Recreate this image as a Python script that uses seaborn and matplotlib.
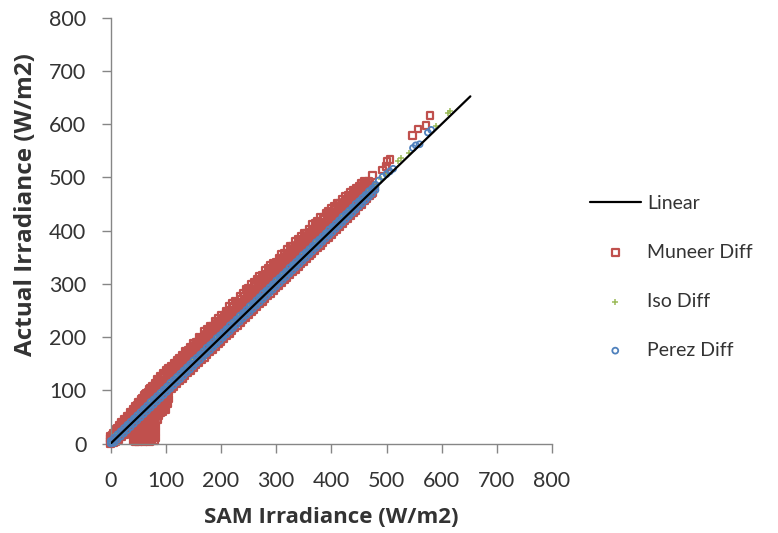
import matplotlib
matplotlib.use("Agg")
import matplotlib.pyplot as plt
import pandas as pd
import seaborn as sns

# SAM modelled irradiance levels (W/m2) and the measured irradiance recorded at each level
muneer_sam = [0, 5, 10, 15, 20, 25, 30, 35, 40, 45, 50, 55, 60, 65, 70, 75, 80, 85, 90, 95,
              100, 105, 110, 115, 120, 125, 130, 135, 140, 145, 150, 155, 160, 165, 170, 175,
              180, 185, 190, 195, 200, 205, 210, 215, 220, 225, 230, 235, 240, 245, 250, 255,
              260, 265, 270, 275, 280, 285, 290, 295, 300, 305, 310, 315, 320, 325, 330, 335,
              340, 345, 350, 355, 360, 365, 370, 375, 380, 385, 390, 395, 400, 405, 410, 415,
              420, 425, 430, 435, 440, 445, 450, 455, 460, 465, 470, 475,
              493, 499, 501, 506, 547, 557, 572, 579,
              2.5, 7.5, 12.5, 17.5, 22.5, 27.5, 32.5, 37.5, 42.5, 47.5, 52.5, 57.5, 62.5,
              67.5, 72.5, 77.5, 82.5, 87.5, 92.5, 97.5, 102.5, 107.5, 112.5, 117.5, 122.5,
              127.5, 132.5, 137.5, 142.5, 147.5, 152.5, 157.5, 162.5, 167.5, 172.5, 177.5,
              182.5, 187.5, 192.5, 197.5, 202.5, 207.5, 212.5, 217.5, 222.5, 227.5, 232.5,
              237.5, 242.5, 247.5, 252.5, 257.5, 262.5, 267.5, 272.5, 277.5, 282.5, 287.5,
              292.5, 297.5, 302.5, 307.5, 312.5, 317.5, 322.5, 327.5, 332.5, 337.5, 342.5,
              347.5, 352.5, 357.5, 362.5, 367.5, 372.5, 377.5, 382.5, 387.5, 392.5, 397.5,
              402.5, 407.5, 412.5, 417.5, 422.5, 427.5, 432.5, 437.5, 442.5, 447.5, 452.5,
              457.5, 462.5, 467.5, 472.5]
muneer_actual = [
    [0, 4, 9, 14], [1, 9, 15, 20], [3, 12, 20, 27], [8, 17, 26, 34], [13, 23, 32, 40],
    [17, 28, 37, 46], [22, 33, 42, 52], [27, 38, 48, 58], [5, 16, 31, 43, 54, 64],
    [4, 13, 24, 36, 48, 59, 70], [4, 14, 26, 41, 53, 65, 77], [6, 18, 30, 45, 58, 71, 83],
    [4, 12, 24, 36, 51, 64, 77, 90], [5, 16, 28, 40, 55, 69, 82, 95],
    [4, 14, 26, 38, 50, 61, 74, 88, 102], [6, 18, 30, 42, 55, 66, 79, 93, 108],
    [5, 15, 28, 40, 52, 63, 74, 86, 99, 113], [44, 56, 67, 79, 92, 106, 120],
    [58, 70, 83, 97, 111, 126], [60, 72, 87, 101, 116, 131],
    [64, 78, 92, 106, 121, 137], [84, 97, 111, 126, 142], [102, 116, 131, 146],
    [107, 121, 136, 151], [112, 126, 141, 157], [118, 132, 147, 160], [122, 136, 151, 166],
    [128, 142, 157, 173], [132, 147, 162, 176], [137, 152, 166, 181], [142, 157, 172, 188],
    [147, 162, 176, 190], [152, 168, 183, 199], [157, 172, 187, 198], [162, 177, 193, 210],
    [167, 183, 198, 214], [172, 188, 204, 220], [177, 193, 208, 220], [182, 197, 213, 230],
    [187, 203, 219, 235], [192, 208, 225, 241], [197, 213, 228, 241], [202, 218, 234, 249],
    [207, 223, 240, 257], [212, 229, 246, 263], [217, 234, 251, 268], [222, 238, 252, 266],
    [227, 244, 260, 276], [232, 249, 266, 283], [237, 254, 271, 289], [242, 259, 276, 292],
    [247, 264, 282, 300], [252, 269, 286, 302], [257, 274, 291, 309], [262, 279, 297, 315],
    [267, 284, 300, 316], [272, 289, 307, 325], [277, 294, 312, 329], [282, 299, 317, 335],
    [287, 304, 322, 338], [292, 309, 325, 340], [297, 314, 331, 347], [302, 319, 337, 356],
    [307, 324, 341, 358], [312, 329, 347, 365], [317, 334, 352, 370], [322, 339, 355, 370],
    [327, 344, 362, 380], [332, 349, 366, 383], [337, 354, 372, 390], [342, 359, 377, 395],
    [347, 364, 380, 395], [352, 369, 386, 402], [357, 374, 392, 411], [362, 379, 396, 413],
    [367, 384, 401, 418], [372, 389, 406, 424], [377, 394, 410, 425], [382, 399, 416, 433],
    [387, 404, 421, 437], [392, 409, 425, 442], [397, 413, 429, 445], [402, 418, 434, 451],
    [408, 423, 438, 452], [413, 428, 444, 459], [418, 433, 449, 465], [423, 438, 453, 467],
    [428, 443, 457, 471], [433, 447, 462, 476], [438, 452, 466, 480], [444, 457, 470, 484],
    [449, 462, 475, 489], [455, 467, 480, 493], [460, 472, 486], [466, 478, 490],
    [471, 483, 503], [514], [520], [530], [533], [578], [591], [597], [616],
    [3, 10, 16], [5, 14, 22], [9, 19, 28], [14, 25, 34], [19, 30, 40], [24, 35, 46],
    [29, 41, 52], [34, 46, 58], [10, 22, 40, 54, 64], [8, 19, 30, 45, 60, 72],
    [9, 20, 33, 50, 64, 78], [10, 22, 36, 55, 70, 85], [8, 18, 30, 44, 60, 76, 92],
    [10, 22, 34, 47, 64, 80, 97], [9, 20, 32, 44, 56, 70, 86, 103],
    [11, 24, 36, 48, 60, 74, 90, 108], [10, 22, 34, 50, 62, 78, 95, 113],
    [52, 64, 84, 100, 118], [64, 76, 90, 106, 124], [68, 82, 95, 112, 130],
    [74, 88, 100, 117, 136], [105, 121, 138], [110, 127, 143], [116, 131, 150],
    [120, 137, 154], [126, 141, 158], [131, 147, 165], [135, 152, 170], [141, 156, 174],
    [146, 162, 180], [150, 167, 185], [156, 171, 190], [160, 177, 195], [166, 181, 199],
    [170, 187, 206], [176, 191, 210], [180, 197, 215], [186, 201, 220], [190, 207, 226],
    [196, 211, 230], [200, 217, 235], [206, 221, 240], [210, 227, 246], [216, 231, 250],
    [220, 237, 256], [226, 241, 260], [230, 247, 264], [236, 251, 270], [240, 257, 276],
    [246, 261, 280], [250, 267, 287], [256, 271, 290], [260, 277, 296], [266, 282, 302],
    [270, 287, 307], [276, 292, 312], [280, 297, 317], [286, 302, 322], [290, 307, 328],
    [296, 312, 332], [300, 317, 336], [306, 322, 342], [310, 327, 348], [316, 332, 352],
    [320, 337, 357], [326, 342, 361], [330, 347, 366], [336, 352, 372], [340, 357, 377],
    [346, 362, 382], [350, 367, 386], [356, 372, 391], [360, 377, 397], [366, 382, 402],
    [370, 387, 407], [376, 392, 412], [380, 397, 416], [386, 402, 421], [390, 407, 427],
    [396, 412, 431], [400, 417, 435], [406, 421, 440], [410, 426, 444], [416, 431, 448],
    [420, 436, 453], [426, 441, 458], [430, 446, 462], [436, 450, 466], [440, 455, 471],
    [446, 460, 475], [450, 465, 480], [456, 470, 485], [460, 475, 488], [466, 480, 492],
    [470, 484],
]

iso_sam = [0, 10, 20, 30, 40, 50, 60, 70, 80, 90, 100, 110, 120, 130, 140, 150, 160, 170,
           180, 190, 200, 210, 220, 230, 240, 250, 260, 270, 280, 290, 300, 310, 320, 330,
           340, 350, 360, 370, 380, 390, 400, 410, 420, 430, 440, 450, 460, 470, 480, 490,
           500, 521, 527, 540, 590, 612, 615]
iso_actual = [
    [2], [9, 17], [19, 26], [29, 37], [39, 46], [49, 57], [59, 66], [69, 77], [79, 86],
    [89, 97], [99, 106], [109, 117], [119, 126], [129, 137], [139, 146], [149, 157],
    [159, 166], [169, 177], [179, 186], [189, 197], [199, 206], [209, 217], [219, 226],
    [229, 237], [239, 246], [249, 257], [259, 266], [269, 277], [279, 286], [289, 297],
    [299, 306], [309, 317], [319, 326], [329, 337], [339, 346], [349, 357], [359, 366],
    [369, 377], [379, 386], [389, 397], [399, 406], [409, 417], [419, 426], [429, 437],
    [439, 446], [449, 457], [459, 466], [469, 477], [486], [497], [507], [530], [536],
    [546], [596], [621], [624],
]

perez_sam = [0, 6, 12, 18, 24, 30, 36, 42, 48, 54, 60, 66, 72, 78, 84, 90, 96, 102, 108,
             114, 120, 126, 132, 138, 144, 150, 156, 162, 168, 174, 180, 186, 192, 198, 204,
             210, 216, 222, 228, 234, 240, 246, 252, 258, 264, 270, 276, 282, 288, 294, 300,
             306, 312, 318, 324, 330, 336, 342, 348, 354, 360, 366, 372, 378, 384, 390, 396,
             402, 408, 414, 420, 426, 432, 438, 444, 450, 456, 462, 468, 474, 480,
             486, 493, 500, 506, 512, 548, 553, 560, 575, 581]
perez_actual = [
    [0, 1, 5], [1, 6, 11], [7, 12, 17], [13, 19, 23], [19, 24, 29], [25, 31, 35],
    [31, 36, 41], [37, 43, 47], [43, 48, 53], [49, 54, 59], [55, 61, 65], [61, 66, 71],
    [67, 72, 78], [73, 79, 83], [79, 84, 89], [85, 90, 95], [91, 97, 101], [97, 102, 107],
    [103, 108, 114], [109, 115, 119], [115, 120, 125], [121, 126, 131], [127, 133, 137],
    [133, 138, 143], [139, 145, 149], [145, 150, 156], [151, 156, 161], [157, 163, 167],
    [163, 168, 173], [169, 174, 180], [175, 181, 185], [181, 186, 191], [187, 192, 198],
    [193, 199, 203], [199, 204, 209], [205, 211, 215], [211, 216, 222], [217, 222, 227],
    [223, 229, 233], [229, 234, 240], [235, 241, 245], [241, 246, 251], [247, 252, 258],
    [253, 259, 263], [259, 264, 269], [265, 271, 275], [271, 276, 282], [277, 283, 287],
    [283, 288, 293], [289, 295, 299], [295, 300, 306], [301, 307, 311], [307, 312, 317],
    [313, 319, 323], [319, 324, 330], [325, 331, 335], [331, 336, 341], [337, 343, 347],
    [343, 348, 354], [349, 355, 359], [355, 360, 365], [361, 367, 371], [367, 372, 378],
    [373, 379, 383], [379, 384, 389], [385, 391, 395], [391, 396, 402], [397, 403, 407],
    [403, 408, 413], [409, 415, 419], [415, 420, 426], [421, 427, 431], [427, 432, 437],
    [433, 439, 443], [439, 444, 450], [445, 451, 455], [451, 456, 461], [457, 463, 467],
    [463, 468, 474], [469, 475, 479], [476, 481, 486],
    [494], [501], [506], [511], [516], [555], [560], [562], [584], [589],
]

linear_x = [0, 652]
linear_y = [0, 652]

x_ticks = [0, 100, 200, 300, 400, 500, 600, 700, 800]
y_ticks = [0, 100, 200, 300, 400, 500, 600, 700, 800]

MUNEER_COLOR = "#C0504D"
ISO_COLOR = "#9BBB59"
PEREZ_COLOR = "#4F81BD"
AXIS_COLOR = "#868686"
TEXT_COLOR = "#333333"


def readings_frame(levels, readings):
    rows = [(s, v) for s, vals in zip(levels, readings) for v in vals]
    return pd.DataFrame(rows, columns=["sam", "actual"])


muneer = readings_frame(muneer_sam, muneer_actual)
iso = readings_frame(iso_sam, iso_actual)
perez = readings_frame(perez_sam, perez_actual)

sns.set_theme(style="white")
plt.rcParams["font.family"] = ["Lato", "DejaVu Sans"]

fig = plt.figure(figsize=(7.78, 5.33), dpi=100)
ax = fig.add_axes([0.1423, 0.1679, 0.5672, 0.7992])

sns.scatterplot(data=muneer, x="sam", y="actual", marker="s", s=22,
                color=MUNEER_COLOR, facecolor="none", edgecolor=MUNEER_COLOR,
                linewidth=1.6, label="Muneer Diff", clip_on=False, zorder=2, ax=ax)
sns.scatterplot(data=iso, x="sam", y="actual", marker="+", s=25,
                color=ISO_COLOR, linewidth=1.1, label="Iso Diff",
                clip_on=False, zorder=3, ax=ax)
sns.scatterplot(data=perez, x="sam", y="actual", marker="o", s=18,
                color=PEREZ_COLOR, facecolor="none", edgecolor=PEREZ_COLOR,
                linewidth=1.3, label="Perez Diff", clip_on=False, zorder=4, ax=ax)
sns.lineplot(x=linear_x, y=linear_y, color="black", linewidth=1.6,
             label="Linear", zorder=5, ax=ax)

ax.set_xlim(0, 800)
ax.set_ylim(0, 800)
ax.set_xticks(x_ticks)
ax.set_yticks(y_ticks)
ax.set_xticklabels([str(t) for t in x_ticks])
ax.set_yticklabels([str(t) for t in y_ticks])
ax.grid(False)

for side in ("top", "right"):
    ax.spines[side].set_visible(False)
for side in ("left", "bottom"):
    ax.spines[side].set_color(AXIS_COLOR)
    ax.spines[side].set_linewidth(1.0)

ax.tick_params(axis="both", direction="out", length=6.5, width=1.0,
               color=AXIS_COLOR, labelcolor=TEXT_COLOR, labelsize=15.5,
               bottom=True, left=True)
ax.tick_params(axis="x", pad=13)
ax.tick_params(axis="y", pad=11)

title_font = {"family": ["Open Sans", "DejaVu Sans"], "size": 16,
              "weight": "bold", "color": TEXT_COLOR}
ax.set_xlabel("SAM Irradiance (W/m2)", fontdict=title_font)
ax.set_ylabel("Actual Irradiance (W/m2)", fontdict={**title_font, "size": 17.5})
ax.xaxis.set_label_coords(0.5, -0.148)
ax.yaxis.set_label_coords(-0.165, 0.56)

handles, labels = ax.get_legend_handles_labels()
lookup = dict(zip(labels, handles))
order = ["Linear", "Muneer Diff", "Iso Diff", "Perez Diff"]
ax.legend([lookup[k] for k in order], order, loc="center left",
          bbox_to_anchor=(590 / 778, 0.481), bbox_transform=fig.transFigure,
          frameon=False, fontsize=14, handlelength=2.6, handletextpad=0.35,
          labelspacing=1.65, borderpad=0, borderaxespad=0, scatterpoints=1,
          labelcolor=TEXT_COLOR)

fig.savefig("out.png", dpi=100)
